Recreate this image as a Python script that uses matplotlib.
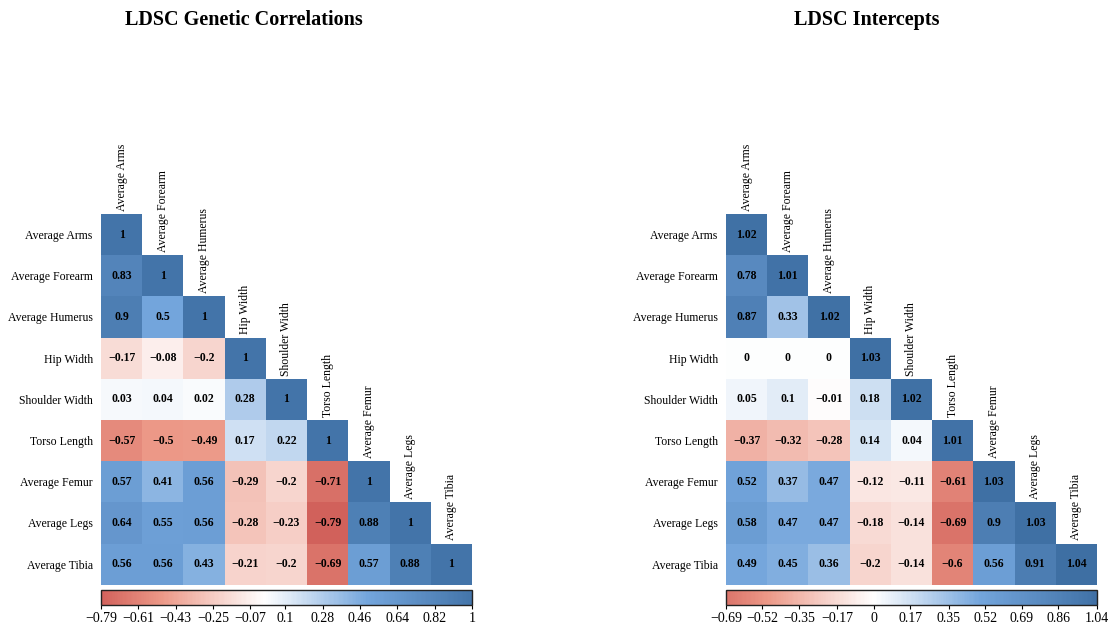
import numpy as np
import matplotlib
matplotlib.use('Agg')
import matplotlib.pyplot as plt
from matplotlib.colors import LinearSegmentedColormap, Normalize

plt.rcParams['font.family'] = ['Liberation Serif', 'DejaVu Serif']

traits = ['Average Arms', 'Average Forearm', 'Average Humerus', 'Hip Width',
          'Shoulder Width', 'Torso Length', 'Average Femur', 'Average Legs',
          'Average Tibia']

# lower triangle (incl. diagonal), row by row
rg_rows = [
    [1],
    [0.83, 1],
    [0.9, 0.5, 1],
    [-0.17, -0.08, -0.2, 1],
    [0.03, 0.04, 0.02, 0.28, 1],
    [-0.57, -0.5, -0.49, 0.17, 0.22, 1],
    [0.57, 0.41, 0.56, -0.29, -0.2, -0.71, 1],
    [0.64, 0.55, 0.56, -0.28, -0.23, -0.79, 0.88, 1],
    [0.56, 0.56, 0.43, -0.21, -0.2, -0.69, 0.57, 0.88, 1],
]

int_rows = [
    [1.02],
    [0.78, 1.01],
    [0.87, 0.33, 1.02],
    [0, 0, 0, 1.03],
    [0.05, 0.1, -0.01, 0.18, 1.02],
    [-0.37, -0.32, -0.28, 0.14, 0.04, 1.01],
    [0.52, 0.37, 0.47, -0.12, -0.11, -0.61, 1.03],
    [0.58, 0.47, 0.47, -0.18, -0.14, -0.69, 0.9, 1.03],
    [0.49, 0.45, 0.36, -0.2, -0.14, -0.6, 0.56, 0.91, 1.04],
]

rg_ticks = [-0.79, -0.61, -0.43, -0.25, -0.07, 0.1, 0.28, 0.46, 0.64, 0.82, 1]
int_ticks = [-0.69, -0.52, -0.35, -0.17, 0, 0.17, 0.35, 0.52, 0.69, 0.86, 1.04]

# colour scale, fixed over values (white at 0)
VMIN, VMAX = -1.05, 1.05
nodes = [(-1.05, (190, 62, 62)), (-0.79, (210, 98, 92)), (-0.5, (236, 152, 135)),
         (0.0, (255, 255, 255)), (0.5, (115, 165, 220)), (1.0, (68, 117, 170)),
         (1.05, (62, 110, 162))]
cmap = LinearSegmentedColormap.from_list(
    'rdwbu', [((v - VMIN) / (VMAX - VMIN), tuple(c / 255 for c in col)) for v, col in nodes])
norm = Normalize(VMIN, VMAX)

W, H = 1109, 631
fig = plt.figure(figsize=(W / 100, H / 100), dpi=100)


def fmt(v):
    return ('%g' % v).replace('-', '\u2212')


def panel(rows, ticks, x0, title, title_x):
    n = len(traits)
    mat = np.full((n, n), np.nan)
    for i, r in enumerate(rows):
        mat[i, :len(r)] = r
    cell = 41.2
    ax = fig.add_axes([x0 / W, 1 - (214 + n * cell) / H, n * cell / W, n * cell / H])
    ax.imshow(np.ma.masked_invalid(mat), cmap=cmap, norm=norm, aspect='auto',
              interpolation='nearest')
    ax.set_xlim(-0.5, n - 0.5)
    ax.set_ylim(n - 0.5, -0.5)
    for s in ax.spines.values():
        s.set_visible(False)
    ax.set_xticks([])
    ax.set_yticks(range(n))
    ax.set_yticklabels(traits, fontsize=8.5)
    ax.tick_params(axis='y', length=0, pad=6)
    for i in range(n):
        for j in range(i + 1):
            ax.text(j, i, fmt(mat[i, j]), ha='center', va='center',
                    fontsize=8.5, fontweight='bold', color='black')
        ax.text(i, i - 0.58, traits[i], rotation=90, ha='center', va='bottom',
                fontsize=8.5)

    cax = fig.add_axes([x0 / W, 1 - 605 / H, n * cell / W, 15 / H])
    lo, hi = ticks[0], ticks[-1]
    sm = plt.cm.ScalarMappable(norm=norm, cmap=cmap)
    cb = fig.colorbar(sm, cax=cax, orientation='horizontal',
                      boundaries=np.linspace(lo, hi, 300))
    cb.set_ticks(ticks, labels=[fmt(t) for t in ticks])
    cb.ax.tick_params(labelsize=10, length=3, width=0.8, pad=2)
    cb.outline.set_linewidth(1.0)
    cb.outline.set_edgecolor('#222222')

    fig.text(title_x / W, 1 - 20 / H, title, ha='center', va='center',
             fontsize=14.5, fontweight='bold')


panel(rg_rows, rg_ticks, 101, 'LDSC Genetic Correlations', 244)
panel(int_rows, int_ticks, 726, 'LDSC Intercepts', 867)

fig.savefig('out.png', dpi=100)
